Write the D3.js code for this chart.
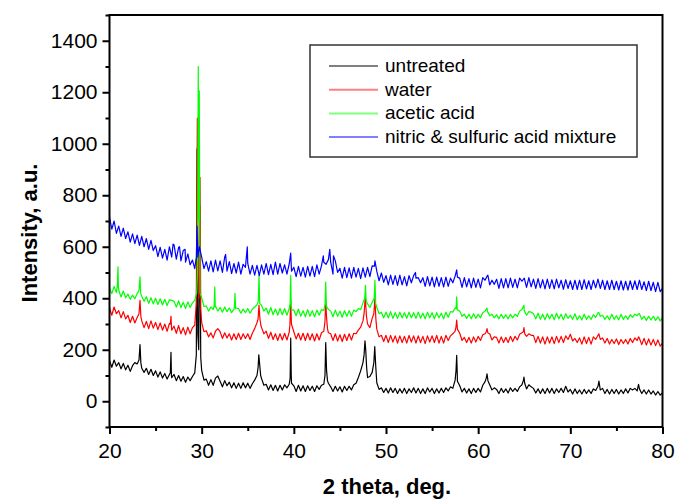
<!DOCTYPE html>
<html>
<head>
<meta charset="utf-8">
<script src="https://cdn.jsdelivr.net/npm/d3@7"></script>
<style>
  body { margin: 0; background: #ffffff; }
  text { font-family: "Liberation Sans", Arial, sans-serif; }
</style>
</head>
<body>
<svg id="chart" width="675" height="500"></svg>
<script>
// ---- data -------------------------------------------------------------
const seriesNames = ["untreated", "water", "acetic acid", "nitric & sulfuric acid mixture"];
const xTicks = [20, 30, 40, 50, 60, 70, 80];
const xMinorTicks = [25, 35, 45, 55, 65, 75];
const yTicks = [0, 200, 400, 600, 800, 1000, 1200, 1400];
const yMinorTicks = [-100, 100, 300, 500, 700, 900, 1100, 1300, 1500];

// Scan readings every 0.25° starting at 20°, one row per degree.
// null marks a step where the peak list below carries the profile.
const untreatedScan = [
  [158,132,160,136],[150,126,147,122],[140,116,138,150],[145,null,128,112],
  [128,104,124,100],[118,94,114,90],[108,86,104,92],[104,80,100,78],
  [96,74,94,80],[96,110,null,null],[120,82,86,62],[84,62,90,98],
  [78,56,80,60],[74,52,72,50],[70,50,72,52],[70,50,68,82],
  [100,null,88,62],[66,44,64,42],[62,40,62,44],[64,52,66,70],
  [60,38,62,40],[60,38,60,42],[58,38,60,46],[62,66,null,70],
  [56,38,58,40],[56,36,58,42],[58,44,64,70],[92,118,150,null],
  [92,96,112,null],[72,46,52,34],[50,32,52,34],[50,30,48,32],
  [50,30,48,34],[52,32,50,30],[48,30,52,36],[50,30,48,32],
  [50,34,52,40],[56,50,82,78],[60,36,50,32],[48,30,50,34],
  [50,36,62,76],[null,64,44,52],[46,30,50,34],[48,32,52,38],
  [50,38,56,64],[null,48,64,56],[50,32,48,30],[48,30,50,32],
  [50,30,48,34],[50,34,58,36],[46,28,48,30],[44,28,46,30],
  [44,30,48,42],[58,44,50,30],[46,28,46,30],[46,28,44,30],
  [48,32,50,44],[50,40,48,30],[44,28,44,28],[40,24,38,24],
  [32]
];
const untreatedPeaks = [
  [23.2,160],[23.31,220],[23.4,150],
  [26.6,110],[26.67,190],[26.72,100],
  [29.42,180],[29.5,980],[29.58,260],[29.68,200],[29.8,760],[29.9,170],
  [36.12,130],[36.2,180],[36.3,140],[36.4,100],
  [39.6,90],[39.66,245],[39.72,100],
  [43.38,100],[43.46,228],[43.55,120],[43.65,80],
  [47.62,180],[47.72,235],[47.8,200],[47.9,130],
  [48.68,150],[48.78,212],[48.88,140],
  [57.6,120],[57.67,178],[57.73,110],
  [60.88,90],[60.96,106],[61.06,80],
  [64.9,80],[64.97,94],[65.05,70],
  [73.1,78],[77.4,66]
];

const waterScan = [
  [362,334,366,340],[352,324,348,320],[334,306,330,304],[325,null,312,286],
  [310,282,312,284],[306,278,304,276],[300,272,302,276],[292,264,294,262],
  [286,258,288,262],[286,295,null,null],[305,270,274,250],[266,246,272,282],
  [270,244,266,246],[262,238,262,240],[264,240,262,244],[262,240,264,282],
  [305,null,286,262],[272,244,268,240],[262,236,262,238],[264,238,268,null],
  [270,242,264,238],[264,236,264,238],[262,234,262,238],[266,272,null,266],
  [262,236,262,234],[258,232,260,236],[262,238,264,262],[276,288,312,null],
  [300,286,322,null],[280,250,256,232],[256,228,256,230],[254,226,254,228],
  [252,226,256,230],[254,226,254,228],[252,224,254,230],[254,228,256,226],
  [252,226,256,236],[254,262,272,null],[264,236,248,228],[248,226,250,230],
  [252,236,258,262],[null,262,238,250],[248,226,250,228],[248,228,252,232],
  [252,238,260,266],[null,252,262,256],[256,228,252,226],[250,222,250,226],
  [250,224,252,228],[252,228,254,240],[260,234,244,228],[246,222,250,224],
  [248,222,250,240],[256,240,246,226],[244,222,240,224],[242,220,240,224],
  [240,222,244,228],[246,236,244,220],[244,218,242,218],[240,216,238,214],
  [226]
];
const waterPeaks = [
  [23.2,340],[23.31,392],[23.4,330],
  [26.6,300],[26.67,330],[26.72,290],
  [29.42,380],[29.53,1100],[29.62,420],[29.72,400],[29.82,870],[29.9,360],
  [36.12,320],[36.22,373],[36.32,320],[36.42,295],
  [39.58,300],[39.66,392],[39.74,300],
  [43.38,310],[43.46,388],[43.56,320],[43.66,280],
  [47.62,340],[47.75,405],[47.88,330],
  [48.68,340],[48.8,400],[48.9,320],
  [57.6,290],[57.67,315],[57.75,280],
  [60.88,270],[60.96,282],[61.06,265],
  [64.9,270],[64.97,286],[65.05,262],
  [73.1,262],[77.4,250]
];

const aceticScan = [
  [440,418,446,422],[432,405,428,402],[416,396,412,398],[418,null,408,388],
  [406,380,402,378],[400,376,398,374],[396,372,394,392],[388,366,390,364],
  [384,360,386,364],[382,392,null,null],[402,368,370,350],[366,356,370,350],
  [364,346,366,348],[362,344,358,362],[360,342,358,344],[360,342,358,366],
  [374,null,372,350],[362,338,364,336],[358,334,360,336],[360,334,360,356],
  [354,332,358,330],[352,328,356,330],[352,328,354,334],[356,352,null,356],
  [350,328,354,330],[350,326,352,330],[352,330,354,348],[360,356,382,null],
  [378,364,384,null],[364,340,346,324],[346,324,348,322],[344,322,346,324],
  [344,322,346,324],[344,322,346,322],[342,320,346,324],[344,320,344,324],
  [342,320,346,326],[348,346,362,null],[350,330,338,322],[338,320,340,322],
  [338,324,344,350],[350,332,338,324],[336,320,338,322],[336,320,338,324],
  [338,330,350,356],[352,334,348,346],[340,320,342,318],[338,316,340,320],
  [338,316,342,320],[338,316,340,322],[334,318,340,316],[332,316,338,318],
  [332,318,336,326],[344,330,334,318],[332,316,338,318],[332,316,338,318],
  [332,318,336,326],[338,332,340,318],[330,314,330,316],[330,314,328,312],
  [325]
];
const aceticPeaks = [
  [20.85,450],[20.92,522],[20.97,440],
  [23.2,430],[23.31,483],[23.38,420],
  [29.45,420],[29.55,500],[29.63,1300],[29.68,700],[29.74,1205],[29.82,420],
  [31.35,370],[31.42,444],[31.48,365],
  [33.55,365],[33.62,419],[33.68,360],
  [36.15,390],[36.22,489],[36.3,380],
  [39.6,380],[39.66,489],[39.72,370],
  [43.4,380],[43.46,463],[43.53,370],
  [47.7,400],[47.77,450],[47.85,390],
  [48.72,400],[48.8,470],[48.88,380],
  [57.6,360],[57.67,405],[57.74,355],
  [60.96,362],[64.97,373],[73.1,344],[77.4,340]
];

const nitricScan = [
  [715,668,700,652],[680,640,672,632],[658,618,650,612],[645,605,640,600],
  [632,590,625,585],[604,562,598,556],[590,548,600,560],[608,552,598,545],
  [585,540,572,530],[548,515,null,null],[560,515,542,505],[545,502,548,506],
  [545,500,560,505],[542,496,535,498],[540,494,532,520],[535,494,528,490],
  [528,488,530,494],[535,492,532,492],[540,494,535,498],[530,494,534,505],
  [520,484,524,486],[520,482,524,486],[524,484,530,494],[526,540,532,550],
  [540,494,545,500],[516,478,520,480],[518,478,520,482],[516,476,518,482],
  [520,484,526,525],[505,468,498,462],[488,452,490,454],[488,450,490,452],
  [484,448,488,460],[488,478,480,460],[480,446,484,448],[482,444,482,446],
  [480,444,482,446],[478,460,486,482],[478,442,480,444],[476,440,478,442],
  [474,440,480,470],[488,452,470,454],[474,438,476,440],[476,440,478,442],
  [474,440,478,466],[478,442,480,444],[474,438,476,440],[472,436,474,438],
  [472,436,474,440],[470,435,472,438],[468,434,470,434],[470,434,472,436],
  [468,434,470,440],[474,438,470,434],[468,434,470,434],[466,432,468,432],
  [466,432,468,434],[468,434,470,434],[464,430,466,430],[462,426,462,426],
  [438]
];
const nitricPeaks = [
  [26.9,610],[27.6,600],[28.2,590],
  [29.42,560],[29.5,680],[29.58,560],[29.75,600],
  [32.6,570],[34.95,600],[39.66,575],
  [43.2,565],[43.9,590],[44.3,565],
  [48.8,545],[53.2,500],[57.67,510],[61.05,490]
];

// ---- layout -----------------------------------------------------------
const svg = d3.select("#chart");
const plot = { left: 109.5, right: 662.5, top: 15, bottom: 427 };

const x = d3.scaleLinear().domain([20, 80]).range([plot.left, plot.right]);
const y = d3.scaleLinear().domain([-100, 1500]).range([plot.bottom, plot.top]);

function profile(scan, peaks) {
  const pts = [];
  scan.forEach((row, deg) => {
    row.forEach((v, j) => {
      if (v !== null) pts.push([20 + deg + j * 0.25, v]);
    });
  });
  return pts.concat(peaks).sort((a, b) => a[0] - b[0]);
}

const series = [
  { name: seriesNames[0], color: "#000000", key: "#808080", pts: profile(untreatedScan, untreatedPeaks) },
  { name: seriesNames[1], color: "#ff0000", key: "#ff8080", pts: profile(waterScan, waterPeaks) },
  { name: seriesNames[2], color: "#00ff00", key: "#80ff80", pts: profile(aceticScan, aceticPeaks) },
  { name: seriesNames[3], color: "#0000ff", key: "#8080ff", pts: profile(nitricScan, nitricPeaks) }
];

svg.append("clipPath").attr("id", "plotClip")
  .append("rect")
  .attr("x", plot.left).attr("y", plot.top)
  .attr("width", plot.right - plot.left).attr("height", plot.bottom - plot.top);

const line = d3.line().x(d => x(d[0])).y(d => y(d[1]));

const traces = svg.append("g").attr("clip-path", "url(#plotClip)");
series.forEach(s => {
  traces.append("path")
    .attr("d", line(s.pts))
    .attr("fill", "none")
    .attr("stroke", s.color)
    .attr("stroke-width", 1.2)
    .attr("stroke-linejoin", "round");
});

// ---- axes -------------------------------------------------------------
function styleAxis(g) {
  g.select(".domain").remove();
  g.selectAll(".tick line").attr("stroke", "#000").attr("stroke-width", 2);
  g.selectAll(".tick text")
    .attr("fill", "#000")
    .style("font-size", "21px")
    .style("font-family", "'Liberation Sans', Arial, sans-serif");
}

svg.append("g")
  .attr("transform", `translate(${plot.left},0)`)
  .call(d3.axisLeft(y).tickValues(yTicks).tickSize(7).tickPadding(5).tickFormat(d3.format("d")))
  .call(styleAxis);
svg.append("g")
  .attr("transform", `translate(${plot.left},0)`)
  .call(d3.axisLeft(y).tickValues(yMinorTicks).tickSize(4).tickFormat(""))
  .call(styleAxis);

svg.append("g")
  .attr("transform", `translate(0,${plot.bottom})`)
  .call(d3.axisBottom(x).tickValues(xTicks).tickSize(7).tickPadding(9).tickFormat(d3.format("d")))
  .call(styleAxis);
svg.append("g")
  .attr("transform", `translate(0,${plot.bottom})`)
  .call(d3.axisBottom(x).tickValues(xMinorTicks).tickSize(4).tickFormat(""))
  .call(styleAxis);

// frame
svg.append("rect")
  .attr("x", plot.left).attr("y", plot.top)
  .attr("width", plot.right - plot.left).attr("height", plot.bottom - plot.top)
  .attr("fill", "none").attr("stroke", "#000").attr("stroke-width", 2);

// axis titles
svg.append("text")
  .attr("x", (plot.left + plot.right) / 2 + 1).attr("y", 494)
  .attr("text-anchor", "middle")
  .style("font-size", "22px").style("font-weight", "bold")
  .text("2 theta, deg.");

svg.append("text")
  .attr("transform", `translate(37,${(plot.top + plot.bottom) / 2 + 12}) rotate(-90)`)
  .attr("text-anchor", "middle")
  .style("font-size", "22px").style("font-weight", "bold")
  .text("Intensity, a.u.");

// ---- legend -----------------------------------------------------------
const legend = svg.append("g");
legend.append("rect")
  .attr("x", 310).attr("y", 45).attr("width", 327).attr("height", 112)
  .attr("fill", "#fff").attr("stroke", "#333").attr("stroke-width", 1.5);

series.forEach((s, i) => {
  const cy = 66 + i * 23.7;
  legend.append("line")
    .attr("x1", 329).attr("x2", 378).attr("y1", cy).attr("y2", cy)
    .attr("stroke", s.key).attr("stroke-width", 2);
  legend.append("text")
    .attr("x", 385).attr("y", cy + 6)
    .style("font-size", "19px")
    .text(s.name);
});
</script>
</body>
</html>
